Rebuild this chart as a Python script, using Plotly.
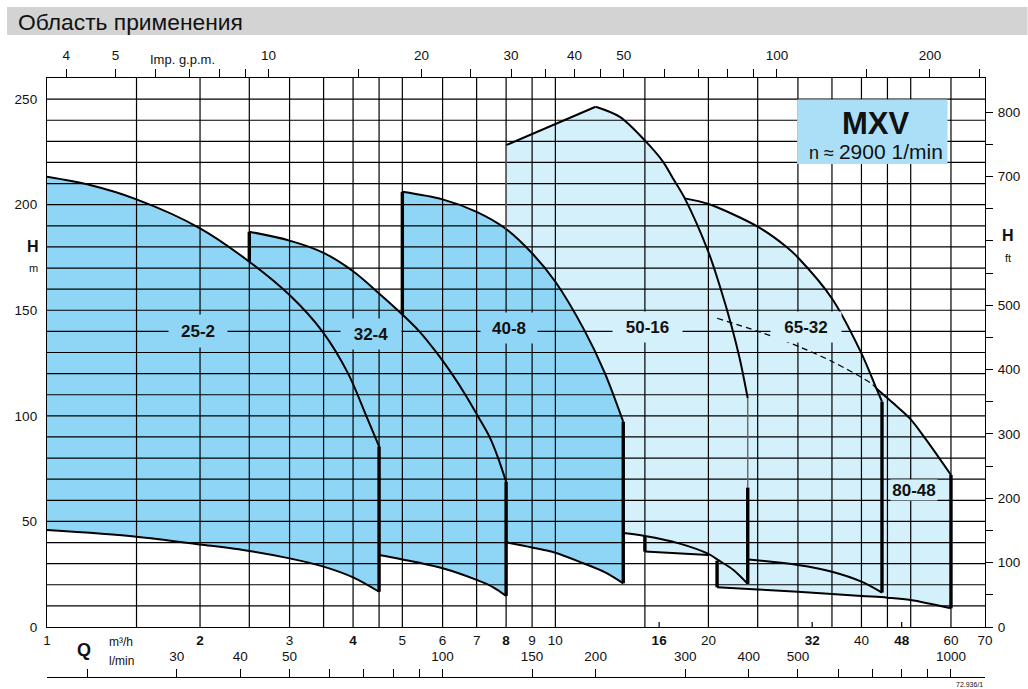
import numpy as np
import plotly.graph_objects as go

# ---------------- data ----------------
# Q in m3/h, H in m
Q_25_2_top = [1, 1.215, 1.5, 2, 2.5, 3, 3.48, 3.91, 4.25, 4.5]
H_25_2_top = [213.2, 209.3, 202.5, 188.8, 173, 157.2, 140, 120.1, 99.8, 85.5]
Q_25_2_bot = [1, 1.5, 2, 2.5, 3, 3.5, 4, 4.5]
H_25_2_bot = [45.9, 42.8, 39.1, 36, 32.5, 28.6, 23.5, 16.7]

Q_32_4_top = [2.5, 3, 3.5, 4, 4.5, 5, 5.41, 5.84, 6.25, 6.66, 7.05, 7.43, 7.72, 8]
H_32_4_top = [187.2, 183, 177.2, 168.5, 158, 148, 139.8, 129.9, 120.1, 109.8, 99.6, 89.8, 79.9, 68.8]
Q_32_4_bot = [4.5, 5, 6, 7, 7.55, 8]
H_32_4_bot = [34.1, 32, 27.8, 22.3, 18.8, 14.7]
H_32_4_left_low = 173

Q_40_8_top = [5, 6, 7, 8, 9, 10, 11.4, 12.5, 13.6]
H_40_8_top = [206.1, 202.5, 196.6, 188.5, 177, 163.5, 140.6, 120.5, 97.2]
Q_40_8_bot = [8, 9, 10, 11.35, 12.5, 13.6]
H_40_8_bot = [40.1, 37.7, 35.2, 30.2, 26, 20.7]
H_40_8_left_low = 148

Q_50_16_top = [8, 12, 13.39, 15.04, 16.29, 17.04, 17.97, 20, 21.05, 22.2, 23.05, 23.9]
H_50_16_top = [228.2, 246.4, 241.6, 230.1, 220.3, 212.4, 203, 177.6, 161.6, 142.7, 127, 108.3]
Q_50_16_bot = [13.6, 15, 17.5, 20, 21, 22.4, 23.9]
H_50_16_bot = [44.5, 43.1, 39.6, 34.6, 31.4, 27, 20.4]
H_50_16_left_low = 188.5
H_50_16_right_mid = 66

Q_65_32_top = [17.97, 20, 25, 28.5, 30, 35, 40, 42.8, 43.9]
H_65_32_top = [203, 200.3, 189.6, 180, 175, 155.6, 129.6, 113, 106.7]
Q_65_32_bot = [15, 20, 24, 30, 35, 40, 43.9]
H_65_32_bot = [35.7, 34.1, 32, 29.4, 26.2, 21.5, 16.3]
H_65_32_hidden_left_top = 205

Q_80_48_top = [20.8, 25.2, 30.2, 35.1, 41.8, 42.8, 46.1, 49.8, 53.7, 60]
H_80_48_top = [146.2, 139.8, 132.7, 125.6, 115.4, 113, 106.2, 98.8, 88.5, 72]
N_80_48_DASHED = 6
Q_80_48_bot = [20.8, 25, 30, 40, 45, 50, 60]
H_80_48_bot = [18.8, 17.8, 16.7, 14.7, 13.9, 12.8, 8.85]

LABELS = ["25-2", "32-4", "40-8", "50-16", "65-32", "80-48"]
LABEL_Q = [1.98, 4.34, 8.1, 15.2, 31.1, 50.8]
LABEL_H = [140.2, 139, 141.4, 141.9, 142.2, 64.9]

GRID_Q = [1.5, 2, 2.5, 3, 3.5, 4, 4.5, 5, 6, 7, 8, 9, 10, 15, 20, 25, 30, 35, 40, 45, 50, 60]
GRID_H = list(range(10, 260, 10))
MINOR_Q = [16, 32, 48]

Q_TICKS = [1, 2, 3, 4, 5, 6, 7, 8, 9, 10, 16, 20, 32, 40, 48, 60, 70]
Q_BOLD = [2, 4, 8, 16, 32, 48]
H_TICKS = [0, 50, 100, 150, 200, 250]
GPM_TICKS = [4, 5, 6, 7, 8, 9, 10, 15, 20, 25, 30, 35, 40, 45, 50, 60, 70, 80, 90, 100, 150, 200, 250]
GPM_LABELED = [4, 5, 10, 20, 30, 40, 50, 100, 200]
LMIN_TICKS = [20, 30, 40, 50, 60, 70, 80, 90, 100, 150, 200, 300, 400, 500, 600, 700, 800, 900, 1000]
LMIN_LABELED = [30, 40, 50, 100, 150, 200, 300, 400, 500, 1000]
FT_TICKS = list(range(0, 801, 50))
FT_LABELED = [0, 100, 200, 300, 400, 500, 700, 800]

Q_MIN, Q_MAX, H_MAX = 1, 70, 260
M3H_TO_GPM = 3.6662
M3H_TO_LMIN = 1000 / 60
M_TO_FT = 3.28084

DARK = "#8fd6f6"
LIGHT = "#d4f0fb"
BOX = "#aadff7"
FONT = "Liberation Sans, Arial, Helvetica, sans-serif"

# ---------------- page geometry ----------------
W, HGT = 1028, 689
PL, PR, PT, PB = 47, 985.5, 78, 679  # paper box in pixels
def px(x): return (x - PL) / (PR - PL)
def py(y): return (PB - y) / (PB - PT)

fig = go.Figure()

def poly(qs, hs, color):
    fig.add_trace(go.Scatter(x=qs + [qs[0]], y=hs + [hs[0]], mode="lines", fill="toself",
                             fillcolor=color, line=dict(width=0, color=color),
                             hoverinfo="skip"))

# light regions
poly(Q_80_48_bot + Q_80_48_top[::-1], H_80_48_bot + H_80_48_top[::-1], LIGHT)
poly(Q_65_32_bot + Q_65_32_top[::-1] + [Q_65_32_bot[0]],
     H_65_32_bot + H_65_32_top[::-1] + [H_65_32_hidden_left_top], LIGHT)
poly([Q_50_16_top[0]] + Q_50_16_top + Q_50_16_bot[::-1],
     [H_50_16_left_low] + H_50_16_top + H_50_16_bot[::-1], LIGHT)
# dark regions
poly(Q_25_2_top + Q_25_2_bot[::-1], H_25_2_top + H_25_2_bot[::-1], DARK)
poly([Q_32_4_top[0]] + Q_32_4_top + Q_32_4_bot[::-1],
     [H_32_4_left_low] + H_32_4_top + H_32_4_bot[::-1], DARK)
poly([Q_40_8_top[0]] + Q_40_8_top + Q_40_8_bot[::-1],
     [H_40_8_left_low] + H_40_8_top + H_40_8_bot[::-1], DARK)

# grid above the fills
gx, gy = [], []
for q in GRID_Q:
    gx += [q, q, None]; gy += [0, H_MAX, None]
for h in GRID_H:
    gx += [Q_MIN, Q_MAX, None]; gy += [h, h, None]
for q in MINOR_Q:
    gx += [q, q, None]; gy += [0, 2.4, None]
fig.add_trace(go.Scatter(x=gx, y=gy, mode="lines", line=dict(color="black", width=1.2),
                         hoverinfo="skip"))

# outlines
def line(qs, hs, width=2, color="black", dash="solid", shape="spline"):
    fig.add_trace(go.Scatter(x=qs, y=hs, mode="lines",
                             line=dict(color=color, width=width, dash=dash, shape=shape,
                                       smoothing=0.9),
                             hoverinfo="skip"))

def vline(q, h0, h1, width=3.4, color="black"):
    line([q, q], [h0, h1], width=width, color=color, shape="linear")

line(Q_25_2_top, H_25_2_top); line(Q_25_2_bot, H_25_2_bot)
vline(Q_25_2_top[-1], H_25_2_bot[-1], H_25_2_top[-1])

line(Q_32_4_top, H_32_4_top); line(Q_32_4_bot, H_32_4_bot)
vline(Q_32_4_top[0], H_32_4_left_low, H_32_4_top[0])
vline(Q_32_4_top[-1], H_32_4_bot[-1], H_32_4_top[-1])

line(Q_40_8_top, H_40_8_top); line(Q_40_8_bot, H_40_8_bot)
vline(Q_40_8_top[0], H_40_8_left_low, H_40_8_top[0])
vline(Q_40_8_top[-1], H_40_8_bot[-1], H_40_8_top[-1])

line(Q_50_16_top[:2], H_50_16_top[:2], shape="linear")
line(Q_50_16_top[1:], H_50_16_top[1:]); line(Q_50_16_bot, H_50_16_bot)
vline(Q_50_16_top[0], H_50_16_left_low, H_50_16_top[0], width=1.4, color="#666")
vline(Q_50_16_top[-1], H_50_16_right_mid, H_50_16_top[-1], width=1.4, color="#666")
vline(Q_50_16_top[-1], H_50_16_bot[-1], H_50_16_right_mid)

line(Q_65_32_top, H_65_32_top)
line(Q_65_32_bot[:2], H_65_32_bot[:2]); line(Q_65_32_bot[2:], H_65_32_bot[2:])
vline(Q_65_32_bot[0], H_65_32_bot[0], H_50_16_bot[1])
vline(Q_65_32_top[-1], H_65_32_bot[-1], H_65_32_top[-1])

line(Q_80_48_top[:N_80_48_DASHED], H_80_48_top[:N_80_48_DASHED], width=1.2, dash="6px,4px")
line(Q_80_48_top[N_80_48_DASHED - 1:], H_80_48_top[N_80_48_DASHED - 1:])
line(Q_80_48_bot, H_80_48_bot)
vline(Q_80_48_bot[0], H_80_48_bot[0], H_50_16_bot[4])
vline(Q_80_48_bot[-1], H_80_48_bot[-1], H_80_48_top[-1])

# dummy invisible traces to attach the secondary axes
ghost = dict(mode="markers", marker=dict(opacity=0), hoverinfo="skip")
fig.add_trace(go.Scatter(x=[GPM_TICKS[0]], y=[0], xaxis="x2", yaxis="y", **ghost))
fig.add_trace(go.Scatter(x=[LMIN_TICKS[0]], y=[0], xaxis="x3", yaxis="y", **ghost))
fig.add_trace(go.Scatter(x=[Q_MIN], y=[0], xaxis="x", yaxis="y2", **ghost))

ann = []
# region labels
LABEL_W = [58, 60, 56, 69, 70, 46]
LABEL_HH = [32, 30, 30, 30, 30, 20]
LABEL_BG = [DARK, DARK, DARK, LIGHT, LIGHT, LIGHT]
for t, q, h, w, hh, bg in zip(LABELS, LABEL_Q, LABEL_H, LABEL_W, LABEL_HH, LABEL_BG):
    ann.append(dict(x=np.log10(q), y=h, xref="x", yref="y", text="<b>%s</b>" % t,
                    showarrow=False, font=dict(size=17, color="#111"), bgcolor=bg,
                    width=w, height=hh, borderpad=0, xanchor="center", yanchor="middle"))

def ptxt(x, y, text, size=13, xanchor="center", **kw):
    ann.append(dict(x=px(x), y=py(y), xref="paper", yref="paper", text=text, showarrow=False,
                    font=dict(size=size, color="#111"), xanchor=xanchor, yanchor="middle", **kw))

ptxt(16, 22, "Область применения", size=22.8, xanchor="left")
ptxt(33, 247, "<b>H</b>", size=16)
ptxt(33, 268, "m", size=11)
ptxt(1009, 235, "<b>H</b>", size=16)
ptxt(1009, 258, "ft", size=11)
ptxt(84, 650, "<b>Q</b>", size=18)
ptxt(107, 642, "m³/h", size=12, xanchor="left")
ptxt(107, 661, "l/min", size=12, xanchor="left")
ptxt(183, 59, "Imp. g.p.m.", size=13)
ptxt(876, 123, "<b>MXV</b>", size=31)
ptxt(876, 151, "<span style='font-size:18px'>n ≈ </span>2900 1/min", size=21)
ptxt(985, 684, "72.936/1", size=7, xanchor="right")

shapes = [
    dict(type="rect", xref="paper", yref="paper", x0=px(7), x1=px(1028), y0=py(35), y1=py(7),
         fillcolor="#d3d3d3", line=dict(width=0), layer="below"),
    dict(type="rect", xref="paper", yref="paper", x0=px(797.5), x1=px(948), y0=py(164), y1=py(99.5),
         fillcolor=BOX, line=dict(width=0), layer="above"),
]

fig.update_layout(
    width=W, height=HGT, margin=dict(l=PL, r=W - PR, t=PT, b=HGT - PB, autoexpand=False),
    paper_bgcolor="white", plot_bgcolor="white", showlegend=False,
    font=dict(family=FONT, size=13.5, color="#111"),
    annotations=ann, shapes=shapes,
    xaxis=dict(type="log", range=[np.log10(Q_MIN), np.log10(Q_MAX)], tickvals=Q_TICKS,
               ticktext=[("<b>%g</b>" % q) if q in Q_BOLD else "%g" % q for q in Q_TICKS],
               showgrid=False, zeroline=False, showline=True, mirror=True, linecolor="black",
               linewidth=1.3, ticks="", ticklabelstandoff=1, automargin=False),
    xaxis2=dict(type="log", overlaying="x", side="top", anchor="y",
                range=[np.log10(Q_MIN * M3H_TO_GPM), np.log10(Q_MAX * M3H_TO_GPM)],
                tickvals=GPM_TICKS,
                ticktext=["%g" % g if g in GPM_LABELED else "" for g in GPM_TICKS],
                ticks="outside", ticklen=8, tickwidth=1.3, tickcolor="black",
                ticklabelstandoff=4, showgrid=False, zeroline=False, showline=False,
                automargin=False),
    xaxis3=dict(type="log", overlaying="x", side="top", anchor="free", position=py(677),
                range=[np.log10(Q_MIN * M3H_TO_LMIN), np.log10(Q_MAX * M3H_TO_LMIN)],
                tickvals=LMIN_TICKS,
                ticktext=["%g" % v if v in LMIN_LABELED else "" for v in LMIN_TICKS],
                ticks="outside", ticklen=8, tickwidth=1.3, tickcolor="black",
                ticklabelstandoff=2, showgrid=False, zeroline=False, showline=True,
                linecolor="black", linewidth=1.3, automargin=False),
    yaxis=dict(range=[0, H_MAX], domain=[py(627), 1], tickvals=H_TICKS,
               showgrid=False, zeroline=False, showline=True, mirror=True, linecolor="black",
               linewidth=1.3, ticks="", ticklabelstandoff=6, automargin=False),
    yaxis2=dict(overlaying="y", side="right", anchor="x", range=[0, H_MAX * M_TO_FT],
                tickvals=FT_TICKS,
                ticktext=["%g" % f if f in FT_LABELED else "" for f in FT_TICKS],
                ticks="outside", ticklen=7, tickwidth=1.3, tickcolor="black",
                ticklabelstandoff=2, showgrid=False, zeroline=False, showline=False,
                automargin=False),
)

fig.write_html("out.html", config={"displayModeBar": False},
               post_script="document.body.style.margin='0px';"
                           "document.body.style.overflow='hidden';")
